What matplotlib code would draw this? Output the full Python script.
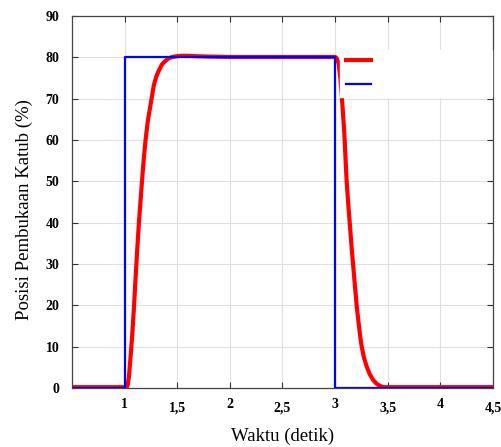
import matplotlib.pyplot as plt
from matplotlib.lines import Line2D
from matplotlib.transforms import ScaledTranslation

# valve opening (time in s, opening in %)
t_resp = [0.5, 1.0, 1.02, 1.03, 1.041, 1.057, 1.073, 1.09, 1.104, 1.12, 1.136,
          1.152, 1.168, 1.184, 1.199, 1.22, 1.246, 1.278, 1.30, 1.325, 1.355,
          1.389, 1.42, 1.452, 1.5, 1.547, 1.6, 1.67, 1.8, 2.0, 2.95, 3.0,
          3.009, 3.02, 3.034, 3.05, 3.063, 3.075, 3.088, 3.10, 3.11, 3.125,
          3.142, 3.157, 3.173, 3.19, 3.206, 3.22, 3.236, 3.253, 3.275, 3.3,
          3.33, 3.363, 3.395, 3.427, 3.45, 3.47, 4.5]
y_resp = [0.2, 0.2, 0.2, 0.8, 2.7, 7.6, 13.0, 20.0, 26.5, 33.5, 40.0,
          45.5, 51.0, 56.0, 60.0, 64.5, 68.5, 73.3, 75.3, 76.8, 78.3,
          79.2, 79.8, 80.1, 80.3, 80.4, 80.4, 80.3, 80.2, 80.1, 80.1, 80.1,
          80.0, 79.5, 78.5, 75.0, 70.9, 66.5, 61.5, 55.0, 50.0, 44.5,
          39.0, 34.0, 29.3, 24.3, 19.7, 16.5, 13.0, 10.0, 7.3, 5.2,
          3.3, 1.9, 1.0, 0.5, 0.3, 0.2, 0.2]

t_set = [0.5, 1.0, 1.0, 3.0, 3.0, 4.5]
y_set = [0, 0, 80, 80, 0, 0]

x_ticks = [1, 1.5, 2, 2.5, 3, 3.5, 4, 4.5]
x_labels = ['1', '1,5', '2', '2,5', '3', '3,5', '4', '4,5']
y_ticks = [0, 10, 20, 30, 40, 50, 60, 70, 80, 90]

plt.rcParams['font.family'] = ['Liberation Serif', 'DejaVu Serif']

fig = plt.figure(figsize=(5.02, 4.47), dpi=100)
ax = fig.add_axes([0.1434, 0.132, 0.8386, 0.832])

ax.plot(t_resp, y_resp, color='#ff0000', linewidth=3.0, solid_joinstyle='round')
ax.plot(t_set, y_set, color='#0000ff', linewidth=1.6)

ax.set_xlim(0.5, 4.5)
ax.set_ylim(0, 90)
ax.set_xticks(x_ticks)
ax.set_xticklabels(x_labels, fontweight='bold', fontsize=10)
ax.set_yticks(y_ticks)
ax.set_yticklabels([str(v) for v in y_ticks], fontweight='bold', fontsize=10)
ax.tick_params(direction='in', length=4, width=0.8, top=True, right=True,
               color='#333333')
ax.tick_params(axis='x', pad=7)
ax.tick_params(axis='y', pad=9)
ax.grid(True, color='#e0e0e0', linewidth=0.8)
ax.set_axisbelow(True)
for s in ax.spines.values():
    s.set_color('#444444')
    s.set_linewidth(0.9)

# half-step labels sit a little lower in the original
for i, lab in enumerate(ax.get_xticklabels()):
    if i % 2 == 1:
        lab.set_transform(lab.get_transform() +
                          ScaledTranslation(0, -3 / 72, fig.dpi_scale_trans))

ax.set_xlabel('Waktu (detik)', fontsize=13.5, labelpad=9)
ax.set_ylabel('Posisi Pembukaan Katub (%)', fontsize=13.5)
ax.yaxis.set_label_coords(-0.093, 0.48)

handles = [Line2D([], [], color='#ff0000', linewidth=3.0),
           Line2D([], [], color='#0000ff', linewidth=1.6)]
leg = ax.legend(handles, [' ' * 30, ' ' * 30], loc='upper left',
                bbox_to_anchor=(0.637, 0.91), frameon=True, fancybox=False,
                edgecolor='white', facecolor='white', framealpha=1,
                handlelength=1.8, borderaxespad=0, fontsize=10,
                labelspacing=0.75)

fig.savefig('out.png', dpi=100)
